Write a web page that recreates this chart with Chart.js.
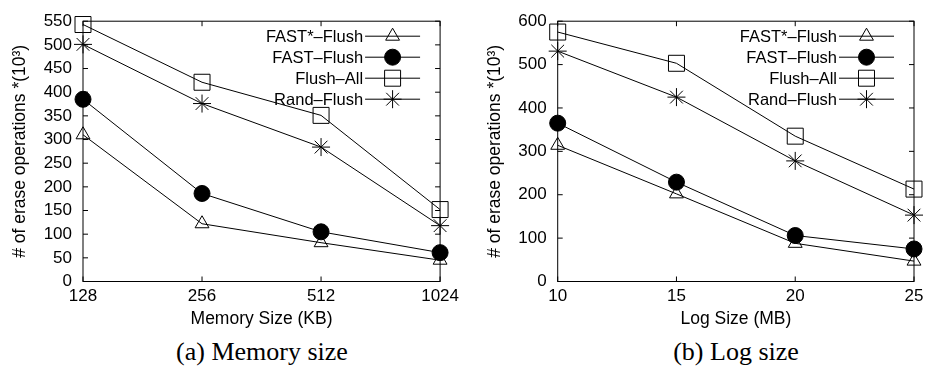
<!DOCTYPE html>
<html>
<head>
<meta charset="utf-8">
<script src="https://cdn.jsdelivr.net/npm/chart.js@4.4.1/dist/chart.umd.min.js"></script>
<style>
  body { margin: 0; background: #fff; width: 929px; height: 368px; position: relative; overflow: hidden; }
  .box { position: absolute; top: 0; }
  .caption { position: absolute; top: 337px; font-family: 'Liberation Serif', 'Times New Roman', serif; font-size: 26px; color: #000; transform: translateX(-50%); white-space: nowrap; line-height: 30px; }
</style>
</head>
<body>
<div class="box" style="left:0"><canvas id="memChart" width="464" height="335"></canvas></div>
<div class="box" style="left:464px"><canvas id="logChart" width="465" height="335"></canvas></div>
<div class="caption" style="left:262px">(a) Memory size</div>
<div class="caption" style="left:736px">(b) Log size</div>

<script>
// Series names and marker styles
const seriesNames = ['FAST*\u2013Flush', 'FAST\u2013Flush', 'Flush\u2013All', 'Rand\u2013Flush'];
const markers = ['triangle', 'circle', 'rect', 'star'];

// (a) Memory size
const memLabels = ['128', '256', '512', '1024'];
const memFastStar = [310, 122, 82, 45];
const memFast = [385, 186, 105, 61];
const memFlushAll = [543, 421, 351, 152];
const memRand = [501, 376, 284, 118];

// (b) Log size
const logLabels = ['10', '15', '20', '25'];
const logFastStar = [314, 202, 88, 47];
const logFast = [365, 229, 106, 75];
const logFlushAll = [575, 503, 335, 213];
const logRand = [531, 425, 278, 153];

const FONT = "'Liberation Sans', Arial, sans-serif";

function markerOpts(style) {
    if (style === 'circle') return { pointRadius: 8, pointBackgroundColor: '#000' };
    if (style === 'rect') return { pointRadius: 11.3, pointBackgroundColor: 'rgba(0,0,0,0)' };
    if (style === 'star') return { pointRadius: 9, pointBackgroundColor: 'rgba(0,0,0,0)' };
    return { pointRadius: 8, pointBackgroundColor: 'rgba(0,0,0,0)' };
}

function makeDatasets(lists) {
    return lists.map((vals, i) => Object.assign({
        label: seriesNames[i],
        data: vals,
        borderColor: '#000',
        borderWidth: 1,
        pointStyle: markers[i],
        pointBorderColor: '#000',
        pointBorderWidth: 1,
        tension: 0,
        clip: false
    }, markerOpts(markers[i])));
}

// gnuplot style frame with inward ticks on all four sides
const framePlugin = {
    id: 'frame',
    beforeDatasetsDraw(chart) {
        const { ctx, chartArea: a, scales } = chart;
        ctx.save();
        ctx.strokeStyle = '#000';
        ctx.lineWidth = 1;
        ctx.strokeRect(a.left, a.top, a.right - a.left, a.bottom - a.top);
        ctx.beginPath();
        scales.y.ticks.forEach((t, i) => {
            const y = scales.y.getPixelForTick(i);
            ctx.moveTo(a.left, y); ctx.lineTo(a.left + 5, y);
            ctx.moveTo(a.right, y); ctx.lineTo(a.right - 5, y);
        });
        scales.x.ticks.forEach((t, i) => {
            const x = scales.x.getPixelForTick(i);
            ctx.moveTo(x, a.bottom); ctx.lineTo(x, a.bottom - 5);
            ctx.moveTo(x, a.top); ctx.lineTo(x, a.top + 5);
        });
        ctx.stroke();
        ctx.restore();
    }
};

// Legend inside the plot, text on the left of a line sample
const keyPlugin = {
    id: 'key',
    afterDatasetsDraw(chart) {
        const { ctx, chartArea: a } = chart;
        ctx.save();
        ctx.font = '16.5px ' + FONT;
        ctx.textAlign = 'right';
        ctx.textBaseline = 'middle';
        chart.data.datasets.forEach((ds, i) => {
            const y = a.top + 15 + i * 21;
            ctx.fillStyle = '#000';
            ctx.fillText(ds.label, a.right - 77, y + 1);
            ctx.strokeStyle = '#000';
            ctx.lineWidth = 1;
            ctx.beginPath();
            ctx.moveTo(a.right - 75, y);
            ctx.lineTo(a.right - 20, y);
            ctx.stroke();
            ctx.fillStyle = ds.pointBackgroundColor;
            Chart.helpers.drawPoint(ctx, {
                pointStyle: ds.pointStyle, radius: ds.pointRadius, rotation: 0, borderWidth: 1
            }, a.right - 47.5, y);
        });
        ctx.restore();
    }
};

function buildChart(id, labels, lists, yMax, yStep, xTitle, yWidth, titlePad, padRight) {
    return new Chart(document.getElementById(id), {
        type: 'line',
        data: { labels: labels, datasets: makeDatasets(lists) },
        options: {
            responsive: false,
            animation: false,
            devicePixelRatio: 1,
            layout: { padding: { top: 17.3, right: padRight, left: 0, bottom: 0 } },
            plugins: { legend: { display: false }, tooltip: { enabled: false } },
            scales: {
                x: {
                    type: 'category',
                    offset: false,
                    grid: { display: false, drawTicks: false },
                    border: { display: false },
                    ticks: { color: '#000', font: { family: FONT, size: 17 }, padding: 5, maxRotation: 0, autoSkip: false },
                    title: { display: true, text: xTitle, color: '#000', font: { family: FONT, size: 17.5 }, padding: { top: 0, bottom: 5 } },
                    afterFit(s) { s.height = 53.5; }
                },
                y: {
                    min: 0,
                    max: yMax,
                    grid: { display: false, drawTicks: false },
                    border: { display: false },
                    ticks: { stepSize: yStep, color: '#000', font: { family: FONT, size: 17 }, padding: 11 },
                    title: { display: true, text: '# of erase operations *(10\u00b3)', color: '#000', font: { family: FONT, size: 17.5 }, padding: { top: titlePad, bottom: 0 } },
                    afterFit(s) { s.width = yWidth; }
                }
            }
        },
        plugins: [framePlugin, keyPlugin]
    });
}

buildChart('memChart', memLabels, [memFastStar, memFast, memFlushAll, memRand], 550, 50, 'Memory Size (KB)', 83, 10, 23);
buildChart('logChart', logLabels, [logFastStar, logFast, logFlushAll, logRand], 600, 100, 'Log Size (MB)', 93.7, 21, 15);
</script>
</body>
</html>
